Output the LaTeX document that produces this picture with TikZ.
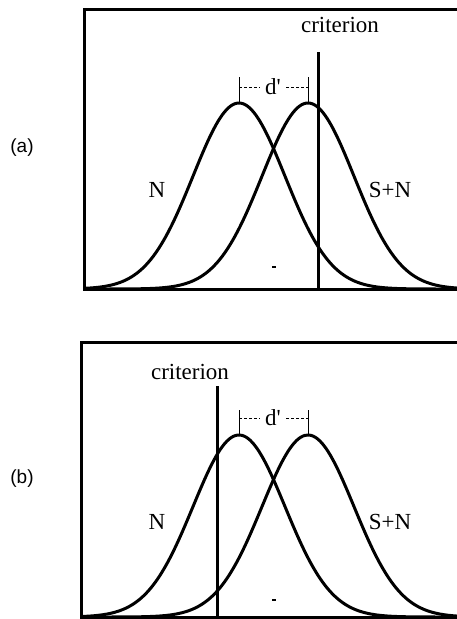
\documentclass[tikz,border=0pt]{standalone}
\usepackage{fontspec}
\setmainfont{Liberation Serif}
\newfontfamily\panelfont{Liberation Sans}
\usetikzlibrary{positioning}

\begin{document}
\begin{tikzpicture}[x=1pt,y=-1pt,every node/.style={font=\fontsize{23}{26}\selectfont,inner sep=0pt},frame/.style={line width=3pt,line join=miter},curve/.style={line width=3pt,line join=round},crit/.style={line width=3pt},tick/.style={line width=0.8pt},gap/.style={line width=0.8pt,densely dashed},dprime/.style={inner xsep=5pt},panel/.style={font=\panelfont\fontsize{19}{22}\selectfont}]
\useasboundingbox (0,0) rectangle (457,619);
% (a): criterion to the right of both peaks
\node[panel] (labA) at (22,148) {(a)};
\draw[frame] (460,9) -- (84,9) -- (84,289) -- (460,289);
\draw[curve] plot[domain=-3.37:4.74,samples=90,smooth] ({239+46*\x},{289-186*exp(-\x*\x/2)});
\draw[curve] plot[domain=-4.87:3.24,samples=90,smooth] ({308+46*\x},{289-186*exp(-\x*\x/2)});
\coordinate (critAtop) at (318,52);
\coordinate (critAbot) at (318,289);
\draw[crit] (critAtop) -- (critAbot);
\node (critA) at (340,25) {criterion};
\coordinate (pkNa) at (239,103);
\coordinate (pkSa) at (308,103);
\coordinate (tkNa) at (239,77);
\coordinate (tkSa) at (308,77);
\draw[tick] (pkNa) -- (tkNa);
\draw[tick] (pkSa) -- (tkSa);
\node[dprime] (dA) at (273,87) {d\textquotesingle};
\draw[gap] (tkNa |- dA) -- (dA);
\draw[gap] (dA) -- (tkSa |- dA);
\node (nA) at (157,190) {N};
\node (snA) at (390,190) {S+N};
\draw[line width=1.5pt] (272,267) -- (276,267);
% (b): criterion to the left of both peaks
\node[panel] (labB) at (22,479) {(b)};
\draw[frame] (460,342) -- (81,342) -- (81,617) -- (460,617);
\draw[curve] plot[domain=-3.43:4.74,samples=90,smooth] ({239+46*\x},{617-182*exp(-\x*\x/2)});
\draw[curve] plot[domain=-4.93:3.24,samples=90,smooth] ({308+46*\x},{617-182*exp(-\x*\x/2)});
\coordinate (critBtop) at (217,386);
\coordinate (critBbot) at (217,617);
\draw[crit] (critBtop) -- (critBbot);
\node (critB) at (190,372) {criterion};
\coordinate (pkNb) at (239,435);
\coordinate (pkSb) at (308,435);
\coordinate (tkNb) at (239,410);
\coordinate (tkSb) at (308,410);
\draw[tick] (pkNb) -- (tkNb);
\draw[tick] (pkSb) -- (tkSb);
\node[dprime] (dB) at (273,418) {d\textquotesingle};
\draw[gap] (tkNb |- dB) -- (dB);
\draw[gap] (dB) -- (tkSb |- dB);
\node (nB) at (157,522) {N};
\node (snB) at (390,522) {S+N};
\draw[line width=1.5pt] (272,600) -- (276,600);
\end{tikzpicture}
\end{document}
